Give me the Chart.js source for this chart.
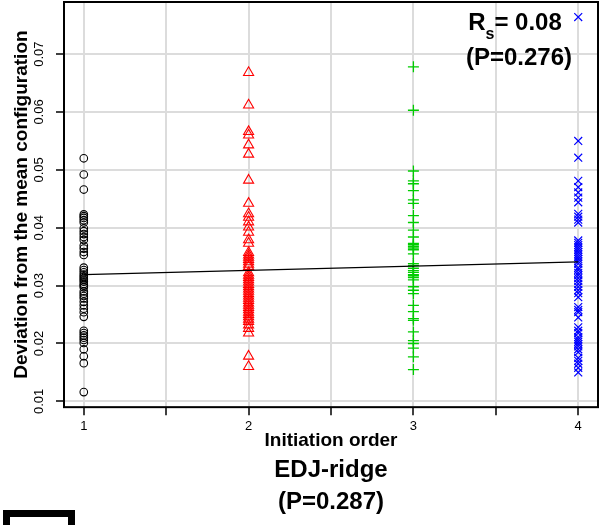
<!DOCTYPE html>
<html>
<head>
<meta charset="utf-8">
<script src="https://cdn.jsdelivr.net/npm/chart.js@4.4.1/dist/chart.umd.min.js"></script>
<style>
  html, body { margin: 0; padding: 0; background: #fff; }
  #wrap { width: 606px; height: 525px; }
</style>
</head>
<body>
<div id="wrap"><canvas id="scatter" width="606" height="525"></canvas></div>
<script>
// EDJ-ridge: deviation from the mean configuration by initiation order
const orderNames = ['1', '2', '3', '4'];

const order1 = [0.0520, 0.0492, 0.0466, 0.0423, 0.0420, 0.0417, 0.0413, 0.0409, 0.0399, 0.0394,
  0.0389, 0.0384, 0.0379, 0.0369, 0.0364, 0.0358, 0.0353, 0.0331, 0.0327, 0.0323,
  0.0319, 0.0316, 0.0313, 0.0310, 0.0307, 0.0303, 0.0300, 0.0297, 0.0290, 0.0286,
  0.0282, 0.0278, 0.0272, 0.0266, 0.0260, 0.0254, 0.0246, 0.0222, 0.0218, 0.0214,
  0.0210, 0.0206, 0.0201, 0.0190, 0.0178, 0.0166, 0.0116];

const order2 = [0.0668, 0.0612, 0.0566, 0.0560, 0.0543, 0.0527, 0.0482, 0.0442, 0.0424, 0.0418,
  0.0410, 0.0401, 0.0392, 0.0379, 0.0373, 0.0357, 0.0353, 0.0349, 0.0345, 0.0341,
  0.0337, 0.0333, 0.0322, 0.0318, 0.0314, 0.0310, 0.0306, 0.0302, 0.0298, 0.0294,
  0.0290, 0.0286, 0.0282, 0.0278, 0.0274, 0.0270, 0.0266, 0.0262, 0.0258, 0.0254,
  0.0250, 0.0246, 0.0242, 0.0238, 0.0232, 0.0226, 0.0218, 0.0178, 0.0160];

const order3 = [0.0678, 0.0603, 0.0498, 0.0481, 0.0476, 0.0464, 0.0448, 0.0442, 0.0421, 0.0409,
  0.0396, 0.0384, 0.0373, 0.0371, 0.0368, 0.0365, 0.0362, 0.0355, 0.0338, 0.0335,
  0.0330, 0.0326, 0.0323, 0.0319, 0.0317, 0.0314, 0.0310, 0.0298, 0.0292, 0.0286,
  0.0266, 0.0255, 0.0243, 0.0240, 0.0220, 0.0205, 0.0200, 0.0192, 0.0177, 0.0155];

const order4 = [0.0764, 0.0550, 0.0521, 0.0481, 0.0470, 0.0461, 0.0452, 0.0444, 0.0424, 0.0419,
  0.0414, 0.0409, 0.0378, 0.0374, 0.0370, 0.0366, 0.0362, 0.0358, 0.0354, 0.0350,
  0.0346, 0.0342, 0.0338, 0.0331, 0.0327, 0.0322, 0.0318, 0.0313, 0.0308, 0.0303,
  0.0298, 0.0292, 0.0287, 0.0280, 0.0263, 0.0258, 0.0254, 0.0245, 0.0228, 0.0222,
  0.0218, 0.0211, 0.0207, 0.0203, 0.0199, 0.0195, 0.0190, 0.0185, 0.0175, 0.0170,
  0.0165, 0.0158, 0.0150];

// fitted trend, end points at order 1 and order 4
const fitX = [1, 4];
const fitY = [0.0319, 0.0341];

const xTicks = [1, 1.5, 2, 2.5, 3, 3.5, 4];
const yTicks = [0.01, 0.02, 0.03, 0.04, 0.05, 0.06, 0.07];
const yTickLabels = ['0.01', '0.02', '0.03', '0.04', '0.05', '0.06', '0.07'];

const FONT = '"Liberation Sans", Arial, Helvetica, sans-serif';

function toPoints(values, x) {
    return values.map(v => ({ x: x, y: v }));
}

function labelFor(list, labels, value) {
    const i = list.findIndex(t => Math.abs(t - value) < 1e-9);
    return i >= 0 ? labels[i] : '';
}

// frame around the plot, the Rs annotation and the corner of the next panel
const extras = {
    id: 'extras',
    afterDraw(chart) {
        const ctx = chart.ctx;
        const a = chart.chartArea;
        ctx.save();
        ctx.strokeStyle = '#000';
        ctx.lineWidth = 2;
        ctx.strokeRect(a.left, a.top, a.right - a.left, a.bottom - a.top);

        ctx.fillStyle = '#000';
        ctx.textBaseline = 'alphabetic';
        ctx.textAlign = 'left';
        const big = 'bold 24px ' + FONT;
        const small = 'bold 16px ' + FONT;
        ctx.font = big;
        const wR = ctx.measureText('R').width;
        const wRest = ctx.measureText('= 0.08').width;
        ctx.font = small;
        const wS = ctx.measureText('s').width;
        const cx = a.right - 83;
        let x0 = cx - (wR + wS + wRest) / 2;
        ctx.font = big;
        ctx.fillText('R', x0, a.top + 28);
        ctx.font = small;
        ctx.fillText('s', x0 + wR, a.top + 37);
        ctx.font = big;
        ctx.fillText('= 0.08', x0 + wR + wS, a.top + 28);
        ctx.textAlign = 'center';
        ctx.fillText('(P=0.276)', a.right - 79, a.top + 63);

        ctx.lineWidth = 7;
        ctx.strokeRect(6.5, 513.5, 65, 40);
        ctx.restore();
    }
};

// keep the plot box fixed: no extra room for overhanging labels
function fixSize(prop, size) {
    return s => {
        s[prop] = size;
        s.paddingTop = 0;
        s.paddingBottom = 0;
        s.paddingLeft = 0;
        s.paddingRight = 0;
    };
}

const ctx = document.getElementById('scatter').getContext('2d');
new Chart(ctx, {
    type: 'scatter',
    data: {
        datasets: [
            {
                type: 'line',
                data: fitX.map((x, i) => ({ x: x, y: fitY[i] })),
                borderColor: '#000',
                borderWidth: 1.2,
                pointRadius: 0,
                fill: false
            },
            {
                data: toPoints(order1, 1),
                pointStyle: 'circle',
                pointRadius: 3.8,
                borderColor: '#000',
                backgroundColor: 'rgba(0,0,0,0)',
                borderWidth: 1.1
            },
            {
                data: toPoints(order2, 2),
                pointStyle: 'triangle',
                pointRadius: 5.8,
                borderColor: '#ff0000',
                backgroundColor: 'rgba(0,0,0,0)',
                borderWidth: 1.1
            },
            {
                data: toPoints(order3, 3),
                pointStyle: 'cross',
                pointRadius: 5.5,
                borderColor: '#00cd00',
                backgroundColor: 'rgba(0,0,0,0)',
                borderWidth: 1.3
            },
            {
                data: toPoints(order4, 4),
                pointStyle: 'crossRot',
                pointRadius: 5.6,
                borderColor: '#0000ff',
                backgroundColor: 'rgba(0,0,0,0)',
                borderWidth: 1.2
            }
        ]
    },
    options: {
        responsive: false,
        animation: false,
        devicePixelRatio: 1,
        layout: { autoPadding: false, padding: { top: 2, right: 8, left: 0, bottom: 0 } },
        plugins: {
            legend: { display: false },
            tooltip: { enabled: false },
            title: {
                display: true,
                position: 'bottom',
                fullSize: false,
                text: ['EDJ-ridge', '(P=0.287)'],
                color: '#000',
                font: { family: FONT, size: 24, weight: 'bold', lineHeight: 1.33 },
                padding: { top: 0, bottom: 7 }
            }
        },
        scales: {
            x: {
                type: 'linear',
                min: 0.88,
                max: 4.12,
                afterBuildTicks: s => { s.ticks = xTicks.map(v => ({ value: v })); },
                afterFit: fixSize('height', 47),
                ticks: {
                    callback: v => Number.isInteger(v) ? orderNames[v - 1] : '',
                    color: '#000',
                    font: { family: FONT, size: 13 },
                    padding: 3,
                    maxRotation: 0,
                    autoSkip: false
                },
                grid: {
                    color: '#dcdcdc',
                    lineWidth: 2,
                    tickColor: '#000',
                    tickWidth: 1.5,
                    tickLength: 8
                },
                border: { display: false },
                title: {
                    display: true,
                    text: 'Initiation order',
                    color: '#000',
                    font: { family: FONT, size: 19, weight: 'bold' },
                    padding: { top: 0, bottom: 2 }
                }
            },
            y: {
                type: 'linear',
                min: 0.0090,
                max: 0.0790,
                afterBuildTicks: s => { s.ticks = yTicks.map(v => ({ value: v })); },
                afterFit: fixSize('width', 64),
                ticks: {
                    callback: v => labelFor(yTicks, yTickLabels, v),
                    color: '#000',
                    font: { family: FONT, size: 13 },
                    padding: 4,
                    minRotation: 90,
                    maxRotation: 90,
                    crossAlign: 'center',
                    autoSkip: false
                },
                grid: {
                    color: '#dcdcdc',
                    lineWidth: 2,
                    tickColor: '#000',
                    tickWidth: 1.5,
                    tickLength: 8
                },
                border: { display: false },
                title: {
                    display: true,
                    text: 'Deviation from the mean configuration',
                    color: '#000',
                    font: { family: FONT, size: 19, weight: 'bold' },
                    padding: { top: 10, bottom: 0 }
                }
            }
        }
    },
    plugins: [extras]
});
</script>
</body>
</html>
